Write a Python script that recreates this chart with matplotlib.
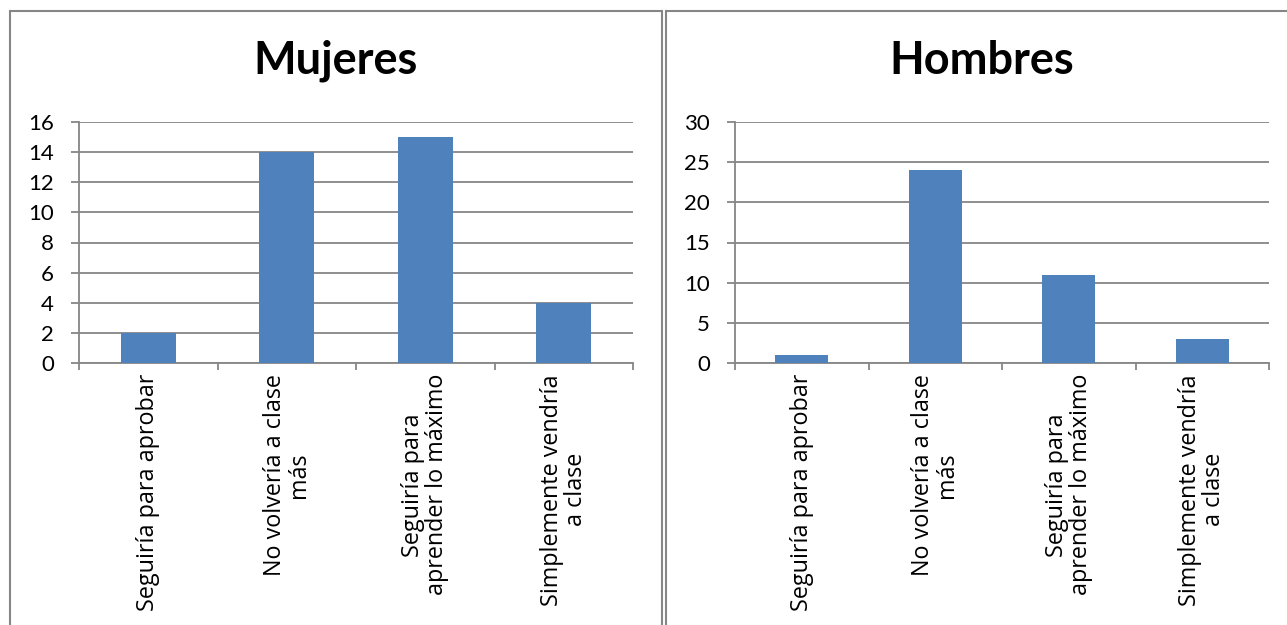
import matplotlib
matplotlib.use("Agg")
import matplotlib.pyplot as plt
from matplotlib.patches import Rectangle

categories = ["Seguiría para aprobar", "No volvería a clase\nmás",
              "Seguiría para\naprender lo máximo", "Simplemente vendría\na clase"]
mujeres = [2, 14, 15, 4]
hombres = [1, 24, 11, 3]
mujeres_ticks = [0, 2, 4, 6, 8, 10, 12, 14, 16]
hombres_ticks = [0, 5, 10, 15, 20, 25, 30]

W, H = 1287, 625
bar_color = "#4F81BD"
grey = "#868686"

fig = plt.figure(figsize=(W / 100, H / 100), dpi=100)

# panel frames (pixels: left, right, top)
for x0, x1 in [(10, 662), (666, 1300)]:
    fig.add_artist(Rectangle((x0 / W, -0.1), (x1 - x0) / W, 1.1 - 11 / H,
                             transform=fig.transFigure, fill=False,
                             edgecolor=grey, linewidth=1.5))

def panel(rect, title, title_x, values, ticks):
    ax = fig.add_axes(rect)
    x = list(range(len(values)))
    ax.bar(x, values, width=0.4, color=bar_color, zorder=3)
    ax.set_xlim(-0.5, len(values) - 0.5)
    ax.set_ylim(ticks[0], ticks[-1])
    ax.set_yticks(ticks)
    ax.set_yticklabels([str(t) for t in ticks], fontfamily="Lato", fontsize=16)
    ax.grid(axis="y", color=grey, linewidth=1.3, zorder=0)
    ax.set_xticks(x)
    ax.set_xticklabels(categories, rotation=90, fontfamily="Open Sans",
                       fontsize=16.8, multialignment="center", linespacing=1.0)
    ax.set_xticks([i - 0.5 for i in range(len(values) + 1)], minor=True)
    ax.tick_params(axis="x", which="major", length=0, pad=8)
    ax.tick_params(axis="x", which="minor", length=5, color=grey, width=1.3)
    ax.tick_params(axis="y", length=6, color=grey, width=1.3, pad=12)
    for s in ["top", "right"]:
        ax.spines[s].set_visible(False)
    for s in ["left", "bottom"]:
        ax.spines[s].set_color(grey)
        ax.spines[s].set_linewidth(1.3)
    fig.text(title_x / W, 1 - 61 / H, title, ha="center", va="center",
             fontfamily="Lato", fontweight="bold", fontsize=32.5)
    return ax

bottom = (H - 363) / H
height = (363 - 122) / H
panel([79 / W, bottom, (633 - 79) / W, height], "Mujeres", 336, mujeres, mujeres_ticks)
panel([735 / W, bottom, (1269 - 735) / W, height], "Hombres", 982, hombres, hombres_ticks)

fig.savefig("out.png", dpi=100)
